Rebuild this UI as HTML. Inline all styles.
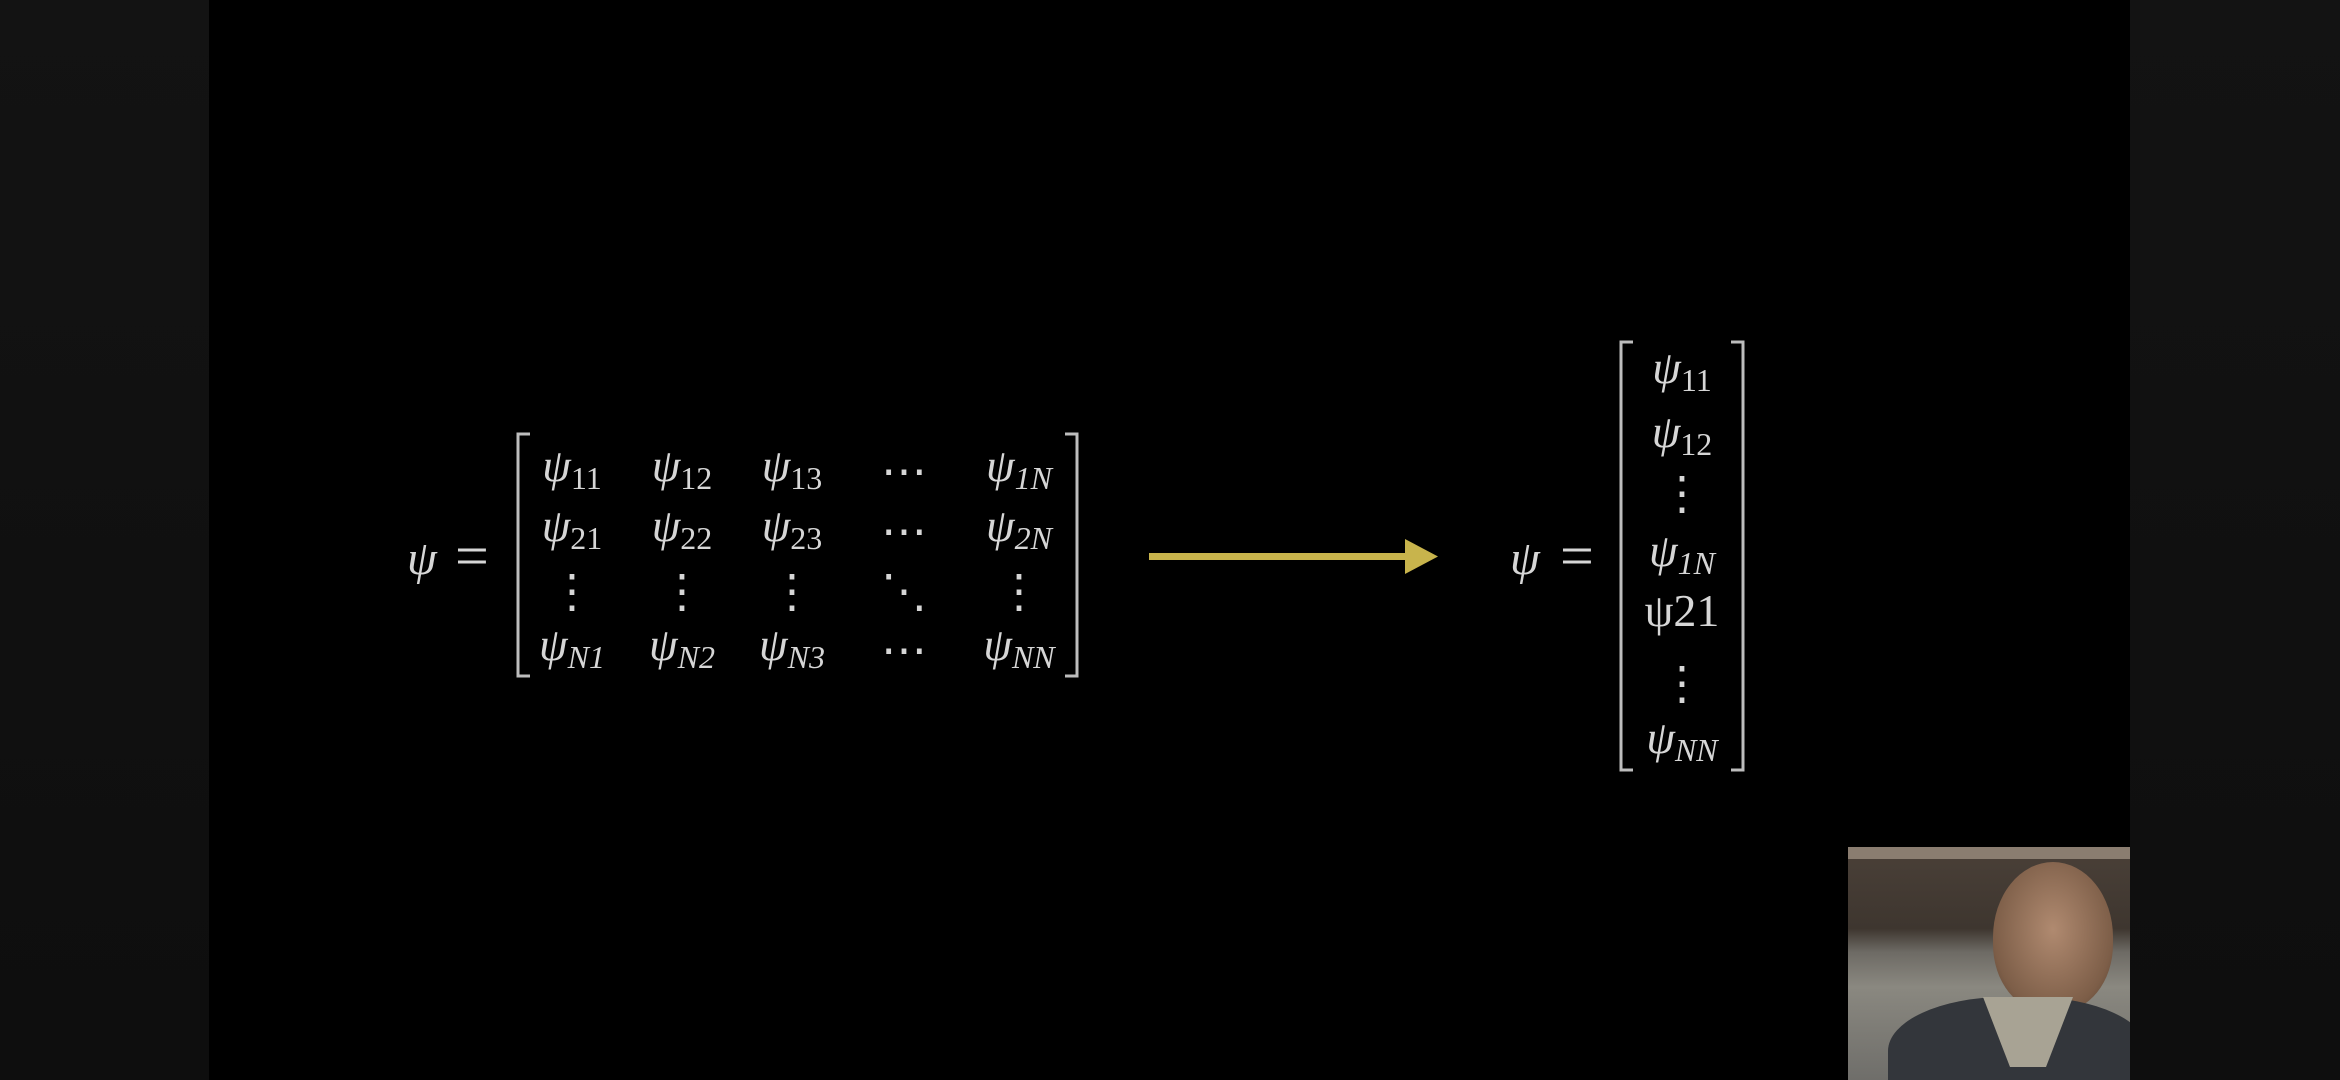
<!DOCTYPE html>
<html><head><meta charset="utf-8"><style>
html,body{margin:0;padding:0;background:#000;}
#wrap{position:relative;width:2340px;height:1080px;overflow:hidden;background:#000;}
.band{position:absolute;top:0;height:1080px;background:linear-gradient(180deg,#131313,#101010 60%,#0e0e0e);}
svg text{font-family:"Liberation Serif",serif;fill:#d6d6d6;}
</style></head><body>
<div id="wrap">
<div class="band" style="left:0;width:209px"></div>
<div class="band" style="left:2130px;width:210px"></div>
<svg width="2340" height="1080" style="position:absolute;left:0;top:0">
 <g>
  <text x="407" y="574" font-size="48" font-style="italic">ψ</text>
  <text x="455" y="576" font-size="60">=</text>
  <path d="M530,434 H518 V676 H530" stroke="#bdbdbd" stroke-width="3" fill="none"/>
  <path d="M1065,434 H1077 V676 H1065" stroke="#bdbdbd" stroke-width="3" fill="none"/>
  <g id="cells"></g>
 </g>
 <g>
  <rect x="1149" y="553" width="265" height="7" fill="#c8b44c"/>
  <polygon points="1405,539 1438,556.5 1405,574" fill="#c8b44c"/>
 </g>
 <g>
  <text x="1510" y="574" font-size="48" font-style="italic">ψ</text>
  <text x="1560" y="576" font-size="60">=</text>
  <path d="M1633,342 H1621 V770 H1633" stroke="#bdbdbd" stroke-width="3" fill="none"/>
  <path d="M1731,342 H1743 V770 H1731" stroke="#bdbdbd" stroke-width="3" fill="none"/>
  <g id="vcells"></g>
 </g>
</svg>
<div style="position:absolute;left:1848px;top:847px;width:282px;height:233px;overflow:hidden;background:linear-gradient(180deg,#4a4038 0%,#3e362f 35%,#6d6a64 45%,#8a8880 60%,#6f6e6a 100%);">
 <div style="position:absolute;left:0;top:0;width:282px;height:12px;background:#8a7d70"></div>
 <div style="position:absolute;left:145px;top:15px;width:120px;height:150px;border-radius:50% 50% 45% 45%;background:radial-gradient(ellipse at 50% 45%,#b08a70,#7d5e48 70%,#4a382c);"></div>
 <div style="position:absolute;left:40px;top:150px;width:260px;height:120px;border-radius:45% 45% 0 0;background:#33363b"></div>
 <div style="position:absolute;left:135px;top:150px;width:90px;height:70px;background:#a8a394;clip-path:polygon(0 0,100% 0,70% 100%,30% 100%)"></div>
</div>
</div>
<script>
const NS="http://www.w3.org/2000/svg";
const rowsY=[467,527,587,646];
const colsX=[572,682,792,904,1019];
const matrix=[
 [["ψ","11"],["ψ","12"],["ψ","13"],["⋯",""],["ψ","1N"]],
 [["ψ","21"],["ψ","22"],["ψ","23"],["⋯",""],["ψ","2N"]],
 [["⋮",""],["⋮",""],["⋮",""],["⋱",""],["⋮",""]],
 [["ψ","N1"],["ψ","N2"],["ψ","N3"],["⋯",""],["ψ","NN"]]
];
const vecY=[369,433,489,552,612,679,739];
const vec=[["ψ","11"],["ψ","12"],["⋮",""],["ψ","1N"],["ψ21",""],["⋮",""],["ψ","NN"]];
function cell(parent,x,y,c){
 const t=document.createElementNS(NS,"text");
 const isDots=(c[0]==="⋯"||c[0]==="⋮"||c[0]==="⋱");
 t.setAttribute("x",x);t.setAttribute("y",y+14+(isDots?6:0));
 t.setAttribute("text-anchor","middle");t.setAttribute("font-size","46");
 
 
 const a=document.createElementNS(NS,"tspan");a.textContent=c[0];
 if(c[0]==="ψ")a.setAttribute("font-style","italic");
 t.appendChild(a);
 if(c[1]){const b=document.createElementNS(NS,"tspan");b.setAttribute("font-size","32");b.setAttribute("dy","8");
  if(c[1].includes("N"))b.setAttribute("font-style","italic");
  b.textContent=c[1];t.appendChild(b);}
 parent.appendChild(t);
}
const g=document.getElementById("cells");
matrix.forEach((r,i)=>r.forEach((c,j)=>cell(g,colsX[j],rowsY[i],c)));
const vg=document.getElementById("vcells");
vec.forEach((c,i)=>cell(vg,1682,vecY[i],c));
</script>
</body></html>
